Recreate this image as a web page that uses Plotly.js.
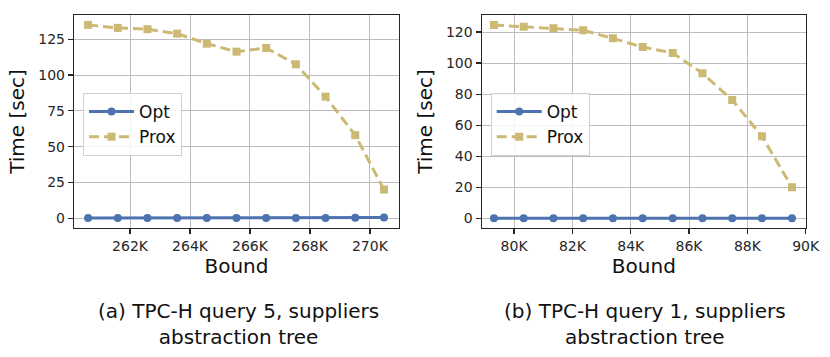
<!DOCTYPE html>
<html>
<head>
<meta charset="utf-8">
<script src="https://cdn.plot.ly/plotly-3.0.1.min.js"></script>
<style>html,body{margin:0;padding:0;background:#fff;}#chart{width:830px;height:357px;}</style>
</head>
<body>
<div id="chart"></div>
<script>
// Left panel: TPC-H query 5
const boundA = [260600, 261590, 262580, 263570, 264560, 265550, 266540, 267530, 268520, 269510, 270470];
const optA   = [0.2, 0.2, 0.2, 0.2, 0.2, 0.2, 0.2, 0.2, 0.2, 0.3, 0.6];
const proxA  = [135.0, 132.9, 132.0, 128.9, 121.9, 116.3, 118.9, 107.5, 84.9, 58.0, 20.0];
const tickValsA = [262000, 264000, 266000, 268000, 270000];
const tickTextA = ['262K', '264K', '266K', '268K', '270K'];

// Right panel: TPC-H query 1
const boundB = [79310, 80330, 81350, 82370, 83390, 84410, 85440, 86460, 87480, 88500, 89530];
const optB   = [0.1, 0.1, 0.1, 0.1, 0.1, 0.1, 0.1, 0.1, 0.1, 0.1, 0.1];
const proxB  = [124.5, 123.4, 122.4, 121.1, 115.9, 110.3, 106.5, 93.4, 76.2, 52.8, 20.0];
const tickValsB = [80000, 82000, 84000, 86000, 88000, 90000];
const tickTextB = ['80K', '82K', '84K', '86K', '88K', '90K'];

const captionA = '(a) TPC-H query 5, suppliers<br>abstraction tree';
const captionB = '(b) TPC-H query 1, suppliers<br>abstraction tree';

const BLUE = '#4c72b0';
const GOLD = '#ccb974';
const FONT = 'DejaVu Sans, sans-serif';
const W = 830, H = 357;

function optTrace(x, y, xa, ya, lg) {
  return {x: x, y: y, xaxis: xa, yaxis: ya, legend: lg, name: 'Opt', type: 'scatter', mode: 'lines+markers',
    line: {color: BLUE, width: 3}, marker: {symbol: 'circle', size: 8, color: BLUE}};
}
function proxTrace(x, y, xa, ya, lg) {
  return {x: x, y: y, xaxis: xa, yaxis: ya, legend: lg, name: 'Prox', type: 'scatter', mode: 'lines+markers',
    line: {color: GOLD, width: 3, dash: '10px,5px'}, marker: {symbol: 'square', size: 8, color: GOLD}};
}

const data = [
  optTrace(boundA, optA, 'x', 'y', 'legend'),
  proxTrace(boundA, proxA, 'x', 'y', 'legend'),
  optTrace(boundB, optB, 'x2', 'y2', 'legend2'),
  proxTrace(boundB, proxB, 'x2', 'y2', 'legend2')
];

const axisCommon = {
  showline: true, mirror: true, linecolor: '#262626', linewidth: 1.2,
  showgrid: true, gridcolor: '#bdbdbd', gridwidth: 1,
  ticks: 'outside', ticklen: 5, tickwidth: 1.2, tickcolor: '#262626',
  tickfont: {family: FONT, size: 14, color: '#262626'},
  zeroline: false
};
const yDomain = [1 - 228 / H, 1 - 15 / H];

const legendCommon = {
  xanchor: 'left', yanchor: 'top', xref: 'paper', yref: 'paper',
  bgcolor: 'rgba(255,255,255,0.85)', bordercolor: '#d0d0d0', borderwidth: 1,
  font: {family: FONT, size: 17, color: '#111'}, tracegroupgap: 0, itemwidth: 45
};

const layout = {
  width: W, height: H,
  margin: {l: 0, r: 0, t: 0, b: 0},
  paper_bgcolor: '#fff', plot_bgcolor: '#fff',
  font: {family: FONT, color: '#262626'},
  showlegend: true,
  xaxis: Object.assign({}, axisCommon, {
    domain: [74 / W, 399 / W], range: [260130, 270970],
    tickmode: 'array', tickvals: tickValsA, ticktext: tickTextA,
    title: {text: 'Bound', font: {family: FONT, size: 20, color: '#111'}, standoff: 6},
    anchor: 'y'
  }),
  yaxis: Object.assign({}, axisCommon, {
    domain: yDomain, range: [-6.8, 141.9],
    tickmode: 'linear', tick0: 0, dtick: 25,
    title: {text: 'Time [sec]', font: {family: FONT, size: 20, color: '#111'}, standoff: 8},
    anchor: 'x'
  }),
  xaxis2: Object.assign({}, axisCommon, {
    domain: [481.7 / W, 806 / W], range: [78890, 90010],
    tickmode: 'array', tickvals: tickValsB, ticktext: tickTextB,
    title: {text: 'Bound', font: {family: FONT, size: 20, color: '#111'}, standoff: 6},
    anchor: 'y2'
  }),
  yaxis2: Object.assign({}, axisCommon, {
    domain: yDomain, range: [-6.25, 130.95],
    tickmode: 'linear', tick0: 0, dtick: 20,
    title: {text: 'Time [sec]', font: {family: FONT, size: 20, color: '#111'}, standoff: 8},
    anchor: 'x2'
  }),
  legend: Object.assign({}, legendCommon, {x: 83 / W, y: 1 - 93 / H}),
  legend2: Object.assign({}, legendCommon, {x: 490.7 / W, y: 1 - 93 / H}),
  annotations: [
    {text: captionA, x: 238 / W, y: 1 - 323.5 / H, xref: 'paper', yref: 'paper', showarrow: false,
     xanchor: 'center', yanchor: 'middle', align: 'center', font: {family: FONT, size: 20, color: '#111'}},
    {text: captionB, x: 645 / W, y: 1 - 323.5 / H, xref: 'paper', yref: 'paper', showarrow: false,
     xanchor: 'center', yanchor: 'middle', align: 'center', font: {family: FONT, size: 20, color: '#111'}}
  ]
};

Plotly.newPlot('chart', data, layout, {staticPlot: true, displayModeBar: false});
</script>
</body>
</html>
